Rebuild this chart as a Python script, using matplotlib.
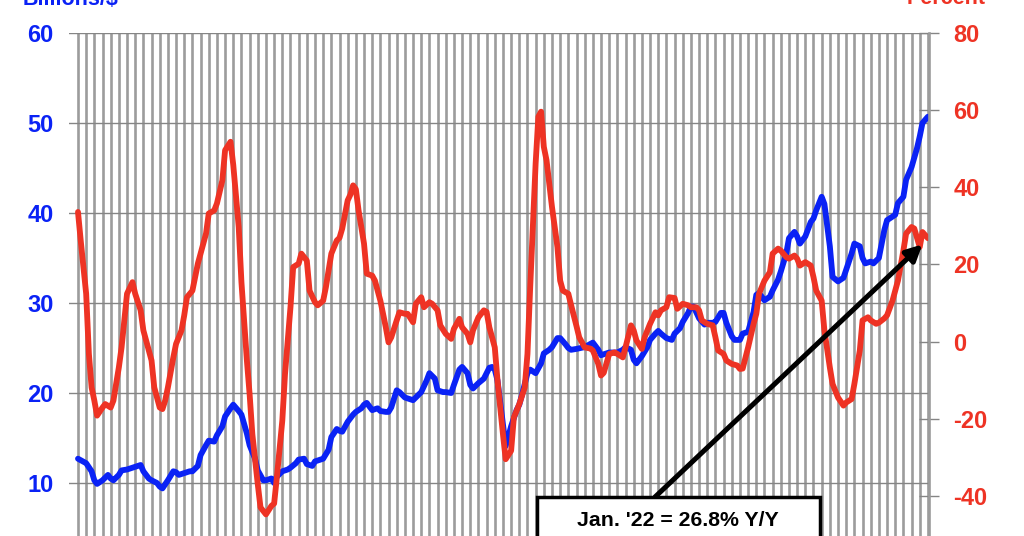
import matplotlib as mpl
import matplotlib.pyplot as plt
import numpy as np
from matplotlib.patches import Rectangle

mpl.rcParams["font.family"] = ["Liberation Sans", "DejaVu Sans"]
mpl.rcParams["font.weight"] = "bold"
mpl.rcParams["axes.unicode_minus"] = False

# months since Jan 1996, 3-month average sales (billions $)
blue_months = [0, 3, 5, 6, 7, 9, 11, 12, 13, 15, 16, 18, 20, 21, 23, 24, 26, 27, 29, 30, 31, 33, 35, 36, 37, 39,
               41, 42, 44, 45, 47, 48, 50, 51, 53, 54, 56, 57, 59, 60, 62, 63, 65, 66, 68, 69, 71, 72, 73, 75, 77,
               78, 80, 81, 83, 84, 86, 87, 89, 90, 92, 93, 95, 96, 97, 99, 101, 102, 104, 105, 106, 108, 110, 111,
               113, 114, 115, 117, 118, 120, 123, 125, 126, 128, 129, 131, 132, 134, 135, 137, 138, 140, 141, 143,
               144, 145, 147, 149, 150, 151, 152, 153, 154, 157, 159, 161, 162, 163, 165, 166, 168, 170, 171, 173,
               174, 176, 177, 179, 180, 181, 183, 186, 189, 191, 192, 194, 195, 197, 198, 200, 201, 203, 204, 205,
               207, 209, 210, 212, 213, 214, 216, 218, 219, 221, 222, 224, 225, 226, 228, 230, 231, 233, 234, 236,
               237, 238, 240, 241, 243, 244, 246, 248, 249, 250, 252, 254, 255, 257, 258, 260, 261, 263, 264, 265,
               267, 269, 270, 271, 273, 274, 276, 277, 279, 281, 282, 284, 285, 287, 288, 289, 291, 292, 294, 296,
               297, 299, 300, 301, 303, 304, 306, 308, 309, 310, 312]
sales_bn = [12.7, 12.2, 11.3, 10.3, 9.9, 10.3, 10.9, 10.5, 10.3, 10.9, 11.4, 11.5, 11.7, 11.8, 12.0, 11.3, 10.5,
            10.3, 10.0, 9.6, 9.4, 10.3, 11.3, 11.2, 10.9, 11.1, 11.3, 11.3, 11.9, 13.1, 14.2, 14.7, 14.6, 15.3,
            16.3, 17.4, 18.3, 18.7, 18.0, 17.6, 15.5, 14.2, 12.7, 11.4, 10.3, 10.3, 10.5, 10.0, 10.7, 11.3, 11.5,
            11.7, 12.2, 12.6, 12.7, 12.1, 11.9, 12.4, 12.6, 12.7, 13.7, 15.1, 16.0, 15.8, 15.7, 16.8, 17.6, 17.9,
            18.3, 18.7, 18.9, 18.1, 18.3, 18.0, 17.9, 17.9, 18.4, 20.3, 20.1, 19.5, 19.2, 19.8, 20.1, 21.4, 22.2,
            21.6, 20.3, 20.1, 20.1, 20.0, 20.9, 22.6, 22.9, 22.2, 20.9, 20.5, 21.1, 21.6, 22.2, 22.8, 22.9, 22.6,
            21.4, 14.1, 16.3, 18.1, 18.7, 19.8, 22.2, 22.6, 22.2, 23.3, 24.4, 24.8, 25.1, 26.1, 26.1, 25.4, 25.0,
            24.8, 24.9, 25.1, 25.6, 24.8, 24.2, 24.4, 24.5, 24.5, 24.5, 24.8, 25.1, 24.8, 23.7, 23.3, 24.1, 25.1,
            25.9, 26.6, 26.9, 26.6, 26.1, 25.9, 26.6, 27.2, 27.9, 28.9, 29.6, 29.6, 28.3, 27.6, 27.8, 27.8, 27.9,
            28.9, 28.9, 27.8, 26.3, 25.9, 25.9, 26.6, 26.8, 29.0, 30.9, 31.1, 30.3, 30.7, 31.4, 32.6, 33.5, 35.5,
            37.2, 37.9, 37.4, 36.6, 37.4, 39.0, 39.4, 40.3, 41.8, 41.0, 36.3, 32.9, 32.4, 32.8, 33.7, 35.5, 36.6,
            36.3, 35.0, 34.4, 34.6, 34.4, 35.0, 38.1, 39.2, 39.6, 39.8, 41.1, 41.8, 43.7, 45.1, 47.2, 48.5, 50.0,
            50.7]

# year over year change (percent)
red_months = [0, 1, 3, 4, 5, 6, 7, 9, 10, 12, 13, 15, 16, 18, 20, 21, 23, 24, 25, 27, 28, 30, 31, 32, 33, 35, 36,
              38, 39, 40, 42, 44, 45, 47, 48, 50, 51, 53, 54, 56, 57, 59, 60, 62, 63, 64, 66, 67, 69, 71, 72, 73,
              75, 76, 78, 79, 81, 82, 84, 85, 87, 88, 90, 91, 93, 95, 96, 97, 99, 100, 101, 102, 103, 105, 106,
              108, 109, 111, 113, 114, 115, 117, 118, 120, 121, 123, 124, 126, 127, 129, 130, 132, 133, 135, 137,
              138, 140, 141, 143, 144, 145, 147, 149, 150, 151, 153, 154, 156, 157, 159, 160, 162, 164, 165, 166,
              168, 169, 170, 171, 172, 174, 176, 177, 178, 180, 181, 183, 184, 186, 188, 189, 191, 192, 193, 195,
              197, 198, 200, 201, 203, 204, 205, 207, 208, 210, 212, 213, 214, 216, 217, 219, 220, 222, 224, 225,
              227, 228, 229, 231, 233, 234, 235, 237, 238, 240, 242, 243, 244, 246, 248, 249, 250, 252, 254, 255,
              257, 258, 260, 261, 263, 264, 265, 267, 269, 270, 271, 273, 274, 276, 277, 279, 281, 282, 284, 285,
              287, 288, 290, 291, 293, 294, 296, 297, 299, 300, 301, 303, 304, 306, 307, 309, 310, 312]
growth_pct = [33.6, 26.2, 12.4, -3.2, -11.9, -15.3, -19.2, -17.1, -16.2, -17.1, -15.3, -6.7, -1.5, 12.4, 15.4,
              12.4, 8.1, 2.9, 0.3, -4.9, -11.9, -17.1, -17.5, -15.3, -11.9, -4.1, -0.6, 2.9, 6.8, 11.5, 13.2,
              20.2, 22.8, 28.0, 33.2, 34.0, 35.8, 41.8, 49.6, 51.8, 45.8, 29.7, 15.4, -4.9, -13.6, -24.0, -37.0,
              -43.0, -44.8, -42.6, -42.0, -35.2, -20.5, -8.4, 8.9, 19.3, 20.2, 22.8, 21.0, 13.2, 10.2, 9.4, 10.6,
              14.1, 22.8, 26.2, 26.9, 29.3, 36.6, 38.1, 40.5, 39.5, 34.0, 25.4, 17.6, 17.1, 15.8, 10.6, 3.7, -0.2,
              1.1, 5.5, 7.6, 7.2, 7.2, 5.0, 9.8, 11.5, 8.9, 10.2, 9.8, 8.1, 4.2, 2.0, 0.7, 3.3, 5.9, 3.7, 2.0,
              -0.2, 2.9, 6.3, 8.1, 7.7, 3.7, -1.5, -10.1, -24.0, -30.5, -28.3, -19.7, -16.2, -11.9, -3.2, 14.1,
              46.2, 58.3, 59.6, 50.5, 47.0, 34.9, 24.5, 15.8, 13.2, 12.4, 9.5, 4.0, 1.1, -1.5, -1.8, -2.3, -5.8,
              -8.8, -8.1, -3.2, -2.8, -3.2, -4.1, -1.5, 4.2, 2.9, 0.3, -1.9, 1.1, 4.6, 7.6, 6.8, 8.1, 8.9, 11.5,
              11.3, 8.5, 9.8, 9.4, 8.9, 8.9, 8.1, 5.5, 4.6, 4.2, 1.1, -2.3, -3.2, -4.9, -5.8, -6.2, -7.1, -7.0,
              -1.5, 4.6, 7.2, 12.4, 15.8, 18.0, 22.8, 24.1, 23.6, 21.9, 21.5, 22.3, 21.5, 19.7, 20.6, 19.7, 16.7,
              13.2, 10.6, 2.9, -6.7, -11.0, -14.5, -16.6, -15.8, -14.9, -11.0, -2.3, 5.5, 6.3, 5.5, 4.6, 4.9, 6.0,
              6.8, 10.6, 13.2, 15.8, 23.6, 28.0, 29.7, 29.3, 24.5, 28.4, 26.8]

# only the ticks that show inside the cropped picture
left_ticks = [10, 20, 30, 40, 50, 60]
right_ticks = [-40, -20, 0, 20, 40, 60, 80]
note = "Jan. '22 = 26.8% Y/Y"

BLUE = "#0A22F5"
RED = "#EE3324"
W, H = 1024, 536

fig = plt.figure(figsize=(W / 100, H / 100), dpi=100)
# plot area runs below the bottom edge of the picture (0 line is cropped)
ax = fig.add_axes([69 / W, -37 / H, 860 / W, 540 / H])
ax2 = ax.twinx()

# quarterly vertical bars + horizontal grid
for m in np.arange(0, 313, 3):
    ax.axvline(m, color="#9c9c9c", lw=1.9, zorder=0)
for v in left_ticks:
    ax.axhline(v, color="#858585", lw=1.0, zorder=0.5)

ax.plot(blue_months, sales_bn, color=BLUE, lw=4.2, solid_joinstyle="round", solid_capstyle="round")
ax2.plot(red_months, growth_pct, color=RED, lw=4.2, solid_joinstyle="round", solid_capstyle="round")

ax.set_xlim(-3.3, 312.4)
ax.set_ylim(0, 60)
ax2.set_ylim(-60, 80)
ax.set_xticks([])
ax.set_yticks(left_ticks)
ax2.set_yticks(right_ticks)
ax.tick_params(axis="y", length=0, pad=11, labelsize=17, labelcolor=BLUE)
ax2.tick_params(axis="y", direction="inout", length=15, width=1, color="#858585", pad=10,
                labelsize=17, labelcolor=RED)
for s in ax.spines.values():
    s.set_visible(False)
for s in ax2.spines.values():
    s.set_visible(False)
ax2.spines["right"].set_visible(True)
ax2.spines["right"].set_color("#9c9c9c")
ax2.spines["right"].set_linewidth(1.9)

fig.text(70 / W, 1 - 5 / H, "Billions/$", color=BLUE, fontsize=15.5, ha="center", va="baseline")
fig.text(946 / W, 1 - 4 / H, "Percent", color=RED, fontsize=15.5, ha="center", va="baseline")

# call-out box and arrow
ax2.annotate("", xy=(310, 25.2), xytext=(655 / W, 1 - 497 / H), textcoords="figure fraction",
             arrowprops=dict(arrowstyle="-|>", lw=3.6, color="black", mutation_scale=24,
                             shrinkA=0, shrinkB=0), annotation_clip=False)
fig.add_artist(Rectangle((537 / W, -0.1), 283 / W, 0.1 + 39 / H, transform=fig.transFigure,
                         facecolor="white", edgecolor="black", lw=2.5, zorder=5))
fig.text(678 / W, 1 - 520 / H, note, fontsize=15.3, ha="center", va="center", zorder=6)

fig.savefig("out.png", dpi=100)
